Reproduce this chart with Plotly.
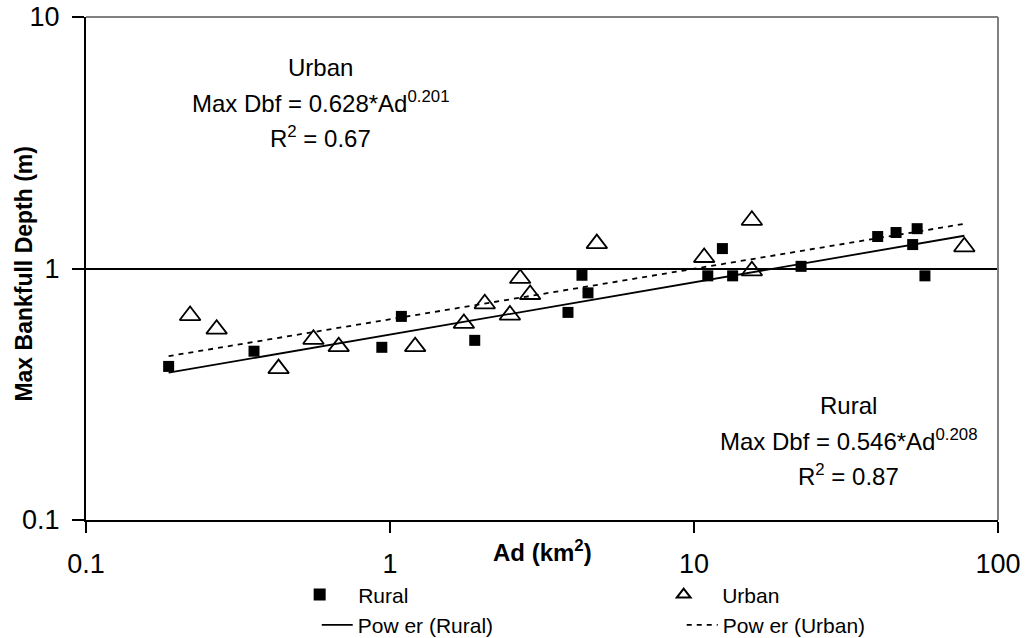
import plotly.graph_objects as go

# ---- data ----
rural_x = [0.187, 0.357, 0.94, 1.09, 1.9, 3.85, 4.28, 4.48, 11.1, 12.4, 13.4, 22.5, 40.2, 46.2, 52.4, 54.2, 57.5]
rural_y = [0.408, 0.469, 0.486, 0.645, 0.518, 0.669, 0.94, 0.80, 0.935, 1.2, 0.935, 1.02, 1.34, 1.39, 1.245, 1.44, 0.935]

urban_x = [0.22, 0.269, 0.43, 0.56, 0.678, 1.21, 1.75, 2.05, 2.48, 2.68, 2.89, 4.79, 10.8, 15.5, 15.5, 77.5]
urban_y = [0.65, 0.574, 0.40, 0.523, 0.489, 0.489, 0.605, 0.724, 0.653, 0.913, 0.788, 1.256, 1.106, 1.555, 0.979, 1.22]

# power-law trendline coefficients shown on the chart
rural_a, rural_b = 0.546, 0.208
urban_a, urban_b = 0.628, 0.201

x_ticks = [0.1, 1, 10, 100]
x_tick_text = ["0.1", "1", "10", "100"]
y_ticks = [0.1, 1, 10]
y_tick_text = ["0.1", "1", "10"]

FONT = "Arial, Liberation Sans, sans-serif"

trend_x = sorted(set(rural_x + urban_x))
rural_fit = [rural_a * x ** rural_b for x in trend_x]
urban_fit = [urban_a * x ** urban_b for x in trend_x]

fig = go.Figure()

fig.add_trace(go.Scatter(
    x=trend_x, y=rural_fit, mode="lines", name="Pow er (Rural)",
    line=dict(color="black", width=1.8), legend="legend2"))
fig.add_trace(go.Scatter(
    x=trend_x, y=urban_fit, mode="lines", name="Pow er (Urban)",
    line=dict(color="black", width=1.8, dash="5px,5px"), legend="legend2"))

fig.add_trace(go.Scatter(
    x=rural_x, y=rural_y, mode="markers", name="Rural",
    marker=dict(symbol="square", size=11, color="black"), legend="legend"))
fig.add_trace(go.Scatter(
    x=urban_x, y=urban_y, mode="markers", name="Urban",
    marker=dict(symbol="triangle-up-open", size=18, color="black",
                line=dict(width=1.8, color="black")), legend="legend"))

fig.update_xaxes(
    type="log", range=[-1, 2], tickvals=x_ticks, ticktext=x_tick_text,
    showline=True, linecolor="black", linewidth=2,
    ticks="outside", ticklen=11, tickwidth=2, tickcolor="black",
    ticklabelstandoff=8, automargin=False, ticklabeloverflow="allow",
    showgrid=False, zeroline=False,
    tickfont=dict(family=FONT, size=27, color="black"))
fig.update_yaxes(
    type="log", range=[-1, 1], tickvals=y_ticks, ticktext=y_tick_text,
    showline=True, linecolor="black", linewidth=2,
    ticks="outside", ticklen=12, tickwidth=2, tickcolor="black",
    ticklabelstandoff=7, automargin=False, ticklabeloverflow="allow",
    showgrid=True, gridcolor="black", gridwidth=2, zeroline=False,
    tickfont=dict(family=FONT, size=27, color="black"))

fig.update_layout(
    width=1029, height=638,
    margin=dict(l=86, r=31, t=17, b=118, autoexpand=False),
    paper_bgcolor="white", plot_bgcolor="white",
    font=dict(family=FONT, color="black"),
    showlegend=True,
    legend=dict(orientation="h", x=0.214, xanchor="left", y=-0.149, yanchor="middle",
                font=dict(family=FONT, size=21, color="black"),
                itemwidth=67, entrywidth=282, bgcolor="rgba(0,0,0,0)",
                itemsizing="constant"),
    legend2=dict(orientation="h", x=0.253, xanchor="left", y=-0.209, yanchor="middle",
                 font=dict(family=FONT, size=21, color="black"),
                 itemwidth=31, entrywidth=319, bgcolor="rgba(0,0,0,0)"),
)

# gray top/right frame
fig.add_shape(type="line", xref="paper", yref="paper", x0=0, x1=1, y0=1, y1=1,
              line=dict(color="#808080", width=2), layer="above")
fig.add_shape(type="line", xref="paper", yref="paper", x0=1, x1=1, y0=0, y1=1,
              line=dict(color="#808080", width=2), layer="above")

# axis titles
fig.add_annotation(text="<b>Ad (km<sup>2</sup>)</b>", xref="paper", yref="paper",
                   x=0.5, y=-0.062, xanchor="center", yanchor="middle", showarrow=False,
                   font=dict(family=FONT, size=24, color="black"))
fig.add_annotation(text="<b>Max Bankfull Depth (m)</b>", xref="paper", yref="paper",
                   x=-0.069, y=0.49, xanchor="center", yanchor="middle", showarrow=False,
                   textangle=-90, font=dict(family=FONT, size=23, color="black"))

# equation labels
urban_lines = ["Urban", f"Max Dbf = {urban_a}*Ad<sup>{urban_b}</sup>", "R<sup>2</sup> = 0.67"]
rural_lines = ["Rural", f"Max Dbf = {rural_a}*Ad<sup>{rural_b}</sup>", "R<sup>2</sup> = 0.87"]
urban_ys = [67, 102, 137]
rural_ys = [405, 440, 475]
for txt, py in zip(urban_lines, urban_ys):
    fig.add_annotation(text=txt, xref="paper", yref="paper",
                       x=(320 - 86) / 912, y=(520 - py) / 503, xanchor="center", yanchor="middle",
                       showarrow=False, font=dict(family=FONT, size=24, color="black"))
for txt, py in zip(rural_lines, rural_ys):
    fig.add_annotation(text=txt, xref="paper", yref="paper",
                       x=(848 - 86) / 912, y=(520 - py) / 503, xanchor="center", yanchor="middle",
                       showarrow=False, font=dict(family=FONT, size=24, color="black"))

# remove the default 8px page margin so the 1029x638 figure fills the window
fig.write_html("out.html", config={"displayModeBar": False},
               post_script="document.body.style.margin='0';")
